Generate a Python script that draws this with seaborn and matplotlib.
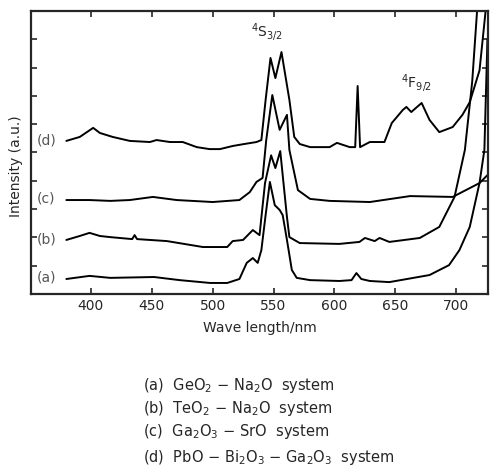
import seaborn as sns
import numpy as np
import pandas as pd
import matplotlib.pyplot as plt

# spectra (wavelength nm, intensity a.u. with vertical offsets)
wlA = [380, 399, 416, 452, 473, 498, 512, 522, 528, 533, 537, 540, 543.5, 547, 551, 555, 557.5, 561, 565, 569,
       580, 604, 614, 618, 622, 629, 645, 678, 694, 702.5, 711, 719, 723, 725.5]
intA = [0.53, 0.64, 0.57, 0.60, 0.49, 0.39, 0.39, 0.53, 1.10, 1.27, 1.10, 1.55, 2.79, 3.96, 3.14, 2.97, 2.79, 1.91,
        0.85, 0.57, 0.49, 0.46, 0.49, 0.74, 0.53, 0.46, 0.42, 0.67, 1.02, 1.55, 2.37, 3.92, 5.09, 9.0]

wlB = [380, 391, 399, 407.5, 416, 434, 436, 438, 462.5, 492, 512, 516.5, 525, 533, 538.5, 543, 548, 551.5, 555.5,
       561, 563, 571.5, 604, 620.5, 625, 633, 637, 645, 670, 686, 698.5, 707, 713, 717]
intB = [1.91, 2.05, 2.16, 2.05, 2.01, 1.94, 2.08, 1.94, 1.87, 1.66, 1.66, 1.87, 1.91, 2.26, 2.08, 3.92, 4.90, 4.45,
        5.05, 2.72, 2.01, 1.80, 1.77, 1.84, 1.98, 1.87, 1.98, 1.84, 1.98, 2.37, 3.43, 5.09, 7.5, 10.0]

wlC = [380, 399, 416, 432, 451, 470.5, 500, 522, 530.5, 536, 541, 544, 549, 555, 561, 563, 570, 580, 596, 629,
       662, 697, 719, 725.5]
intC = [3.32, 3.32, 3.29, 3.32, 3.43, 3.32, 3.25, 3.32, 3.60, 3.96, 4.10, 5.44, 7.03, 5.80, 6.33, 5.09, 3.67, 3.36,
        3.29, 3.25, 3.46, 3.43, 3.92, 4.2]

wlD = [380, 391, 402, 407.5, 418, 432, 448.5, 454, 465, 475.5, 487, 497.5, 506, 516.5, 526, 536, 540, 543.5, 547.5,
       551.5, 556.5, 563, 567, 571.5, 580, 596, 602, 612.5, 617, 619, 621, 629, 641, 647, 656, 659, 663, 671.5,
       678, 686, 697, 705, 711, 719, 724]
intD = [5.41, 5.55, 5.87, 5.69, 5.55, 5.41, 5.37, 5.44, 5.37, 5.37, 5.19, 5.12, 5.12, 5.23, 5.30, 5.37, 5.44, 6.86,
        8.34, 7.63, 8.55, 6.86, 5.55, 5.30, 5.19, 5.19, 5.34, 5.19, 5.19, 7.35, 5.19, 5.37, 5.37, 6.04, 6.50, 6.61,
        6.43, 6.75, 6.15, 5.72, 5.90, 6.33, 6.78, 7.9, 10.0]

seriesNames = ["(a)", "(b)", "(c)", "(d)"]
labelY = [0.6, 1.94, 3.36, 5.41]
legendLines = ["(a)  GeO$_2$ − Na$_2$O  system",
               "(b)  TeO$_2$ − Na$_2$O  system",
               "(c)  Ga$_2$O$_3$ − SrO  system",
               "(d)  PbO − Bi$_2$O$_3$ − Ga$_2$O$_3$  system"]

frames = []
for name, wl, inten in zip(seriesNames, [wlA, wlB, wlC, wlD], [intA, intB, intC, intD]):
    frames.append(pd.DataFrame({"wl": wl, "I": inten, "series": name}))
specDf = pd.concat(frames, ignore_index=True)

sns.set_style("ticks")
plt.rcParams['font.family'] = ['DejaVu Sans']
plt.rcParams['mathtext.default'] = 'regular'

fig = plt.figure(figsize=(4.9, 4.68), dpi=100)
ax = fig.add_axes([0.0633, 0.3718, 0.9327, 0.6047])

sns.lineplot(data=specDf, x="wl", y="I", units="series", estimator=None, sort=False,
             color="black", linewidth=1.4, ax=ax)

ax.set_xlim(351, 726)
ax.set_ylim(0, 10)
ax.set_xticks([400, 450, 500, 550, 600, 650, 700])
ax.set_yticks(range(1, 10))
ax.set_yticklabels([])
ax.tick_params(direction="in", top=True, right=True, length=4, width=1.2, labelsize=10)
for sp in ax.spines.values():
    sp.set_linewidth(1.6)

ax.set_xlabel("Wave length/nm", fontsize=10, labelpad=6)
ax.set_ylabel("Intensity (a.u.)", fontsize=10)
ax.yaxis.set_label_coords(-0.018, 0.45)

for name, y in zip(seriesNames, labelY):
    ax.text(363.5, y, name, fontsize=10, color="#555555", ha="center", va="center")

ax.text(545, 9.25, "$^4$S$_{3/2}$", fontsize=10, ha="center", va="center")
ax.text(667, 7.45, "$^4$F$_{9/2}$", fontsize=10, ha="center", va="center")

legendY = [0.177, 0.128, 0.077, 0.0235]
for txt, y in zip(legendLines, legendY):
    fig.text(0.292, y, txt, fontsize=10.5, ha="left", va="center")

fig.savefig("out.png", dpi=100)
